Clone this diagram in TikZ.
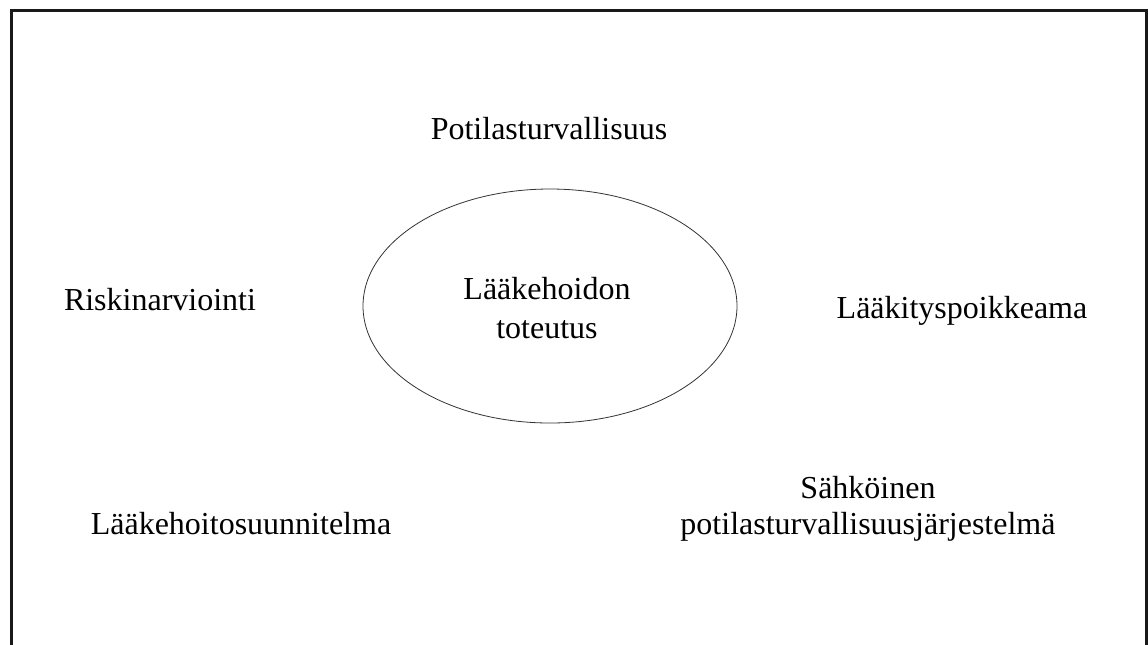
\documentclass[tikz,border=0pt]{standalone}
\usepackage{fontspec}
\setmainfont{Liberation Serif}
\usetikzlibrary{shapes.geometric}
\begin{document}
\begin{tikzpicture}[x=0.75pt,y=-0.75pt,
  lbl/.style={anchor=base,inner sep=0pt,align=center,font=\fontsize{24}{26.5}\selectfont},
  frame/.style={line width=1.6pt,black!90}]
\useasboundingbox (0,0) rectangle (1148,644);
\fill[white] (0,0) rectangle (1148,644);
\draw[frame] (11.5,660) -- (11.5,10.5) -- (1146.5,10.5) -- (1146.5,660);
\node[draw=black!80,line width=0.6pt,ellipse,minimum width=374*0.75pt,minimum height=234*0.75pt,inner sep=0pt] (core) at (550,306) {};
\node[lbl,font=\fontsize{24}{29}\selectfont] (center) at (547,338) {Lääkehoidon\\toteutus};
\node[lbl] (pot) at (549,139) {Potilasturvallisuus};
\node[lbl] (risk) at (160,310) {Riskinarviointi};
\node[lbl] (poik) at (962,318) {Lääkityspoikkeama};
\node[lbl] (suun) at (241,534) {Lääkehoitosuunnitelma};
\node[lbl] (sahk) at (868,534) {Sähköinen\\potilasturvallisuusjärjestelmä};
\end{tikzpicture}
\end{document}
